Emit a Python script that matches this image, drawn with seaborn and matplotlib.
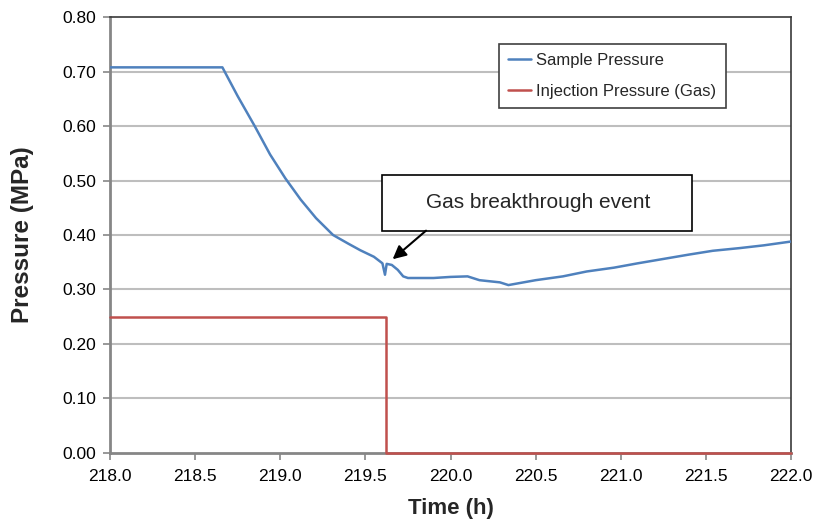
import numpy as np
import pandas as pd
import matplotlib
matplotlib.use("Agg")
import matplotlib.pyplot as plt
import seaborn as sns
from matplotlib.patches import Rectangle

# ---- data ----
sample_t = [218.0, 218.66, 218.75, 218.85, 218.94, 219.03, 219.12, 219.21, 219.31,
            219.40, 219.47, 219.55, 219.60, 219.615, 219.625, 219.655, 219.69, 219.722,
            219.75, 219.80, 219.90, 220.0, 220.10, 220.17, 220.29, 220.34, 220.50,
            220.66, 220.80, 220.96, 221.10, 221.25, 221.40, 221.54, 221.70, 221.84, 222.0]
sample_p = [0.708, 0.708, 0.655, 0.600, 0.548, 0.504, 0.465, 0.431, 0.400,
            0.384, 0.372, 0.360, 0.348, 0.327, 0.347, 0.345, 0.336, 0.324,
            0.321, 0.321, 0.321, 0.323, 0.324, 0.317, 0.313, 0.308, 0.317,
            0.324, 0.333, 0.340, 0.348, 0.356, 0.364, 0.371, 0.376, 0.381, 0.388]
inject_t = [218.0, 219.62, 219.62, 222.0]
inject_p = [0.25, 0.25, 0.0, 0.0]
labels = ["Sample Pressure", "Injection Pressure (Gas)"]
x_ticks = [218.0, 218.5, 219.0, 219.5, 220.0, 220.5, 221.0, 221.5, 222.0]
y_ticks = [0.0, 0.1, 0.2, 0.3, 0.4, 0.5, 0.6, 0.7, 0.8]
annotation = "Gas breakthrough event"

sns.set_theme(style="white")
plt.rcParams['font.family'] = ['Liberation Sans', 'DejaVu Sans']

fig = plt.figure(figsize=(8.15, 5.19), dpi=100)
ax = fig.add_axes([0.135, 0.1277, 0.8356, 0.839])

df_s = pd.DataFrame({"t": sample_t, "p": sample_p})
df_i = pd.DataFrame({"t": inject_t, "p": inject_p})
sns.lineplot(data=df_s, x="t", y="p", ax=ax, color="#4F81BD", lw=1.8,
             estimator=None, sort=False, label=labels[0], zorder=4)
sns.lineplot(data=df_i, x="t", y="p", ax=ax, color="#C0504D", lw=1.8,
             estimator=None, sort=False, label=labels[1], zorder=5, clip_on=False)

ax.set_xlim(218.0, 222.0)
ax.set_ylim(0.0, 0.8)
ax.set_xticks(x_ticks)
ax.set_yticks(y_ticks)
ax.set_xticklabels([f"{v:.1f}" for v in x_ticks], fontsize=12.5)
ax.set_yticklabels([f"{v:.2f}" for v in y_ticks], fontsize=12.5)
ax.tick_params(axis="both", direction="out", length=5, width=1.2, color="#868686",
               bottom=True, left=True, labelcolor="black")
ax.tick_params(axis="x", pad=7)
ax.tick_params(axis="y", pad=5)
for v in y_ticks[1:-1]:
    ax.axhline(v, color="#BEBEBE", lw=1.5, zorder=1)
ax.grid(False)

for s in ["top", "right"]:
    ax.spines[s].set_color("#3A3A3A")
    ax.spines[s].set_linewidth(1.2)
for s in ["left", "bottom"]:
    ax.spines[s].set_color("#868686")
    ax.spines[s].set_linewidth(2.0)

ax.set_xlabel("Time (h)", fontsize=16, fontweight="bold", labelpad=10)
ax.set_ylabel("Pressure (MPa)", fontsize=17.5, fontweight="bold", labelpad=20)

leg = ax.legend(loc="upper left", bbox_to_anchor=(0.571, 0.9387), fontsize=12,
                frameon=True, fancybox=False, edgecolor="#404040", framealpha=1,
                handlelength=1.4, handletextpad=0.3, borderpad=0.55, labelspacing=0.95,
                borderaxespad=0)
leg.get_frame().set_linewidth(1.2)

# annotation box
ax.add_patch(Rectangle((0.3994, 0.5099), 0.4552, 0.1279, transform=ax.transAxes,
                       facecolor="white", edgecolor="black", lw=1.2, zorder=6))
ax.text(0.629, 0.5738, annotation, transform=ax.transAxes, ha="center", va="center",
        fontsize=15, zorder=7)
ax.annotate("", xy=(219.66, 0.3555), xytext=(219.856, 0.408),
            arrowprops=dict(arrowstyle="-|>", color="black", lw=1.5,
                            mutation_scale=20, shrinkA=0, shrinkB=0), zorder=7)

fig.savefig("out.png", dpi=100)
